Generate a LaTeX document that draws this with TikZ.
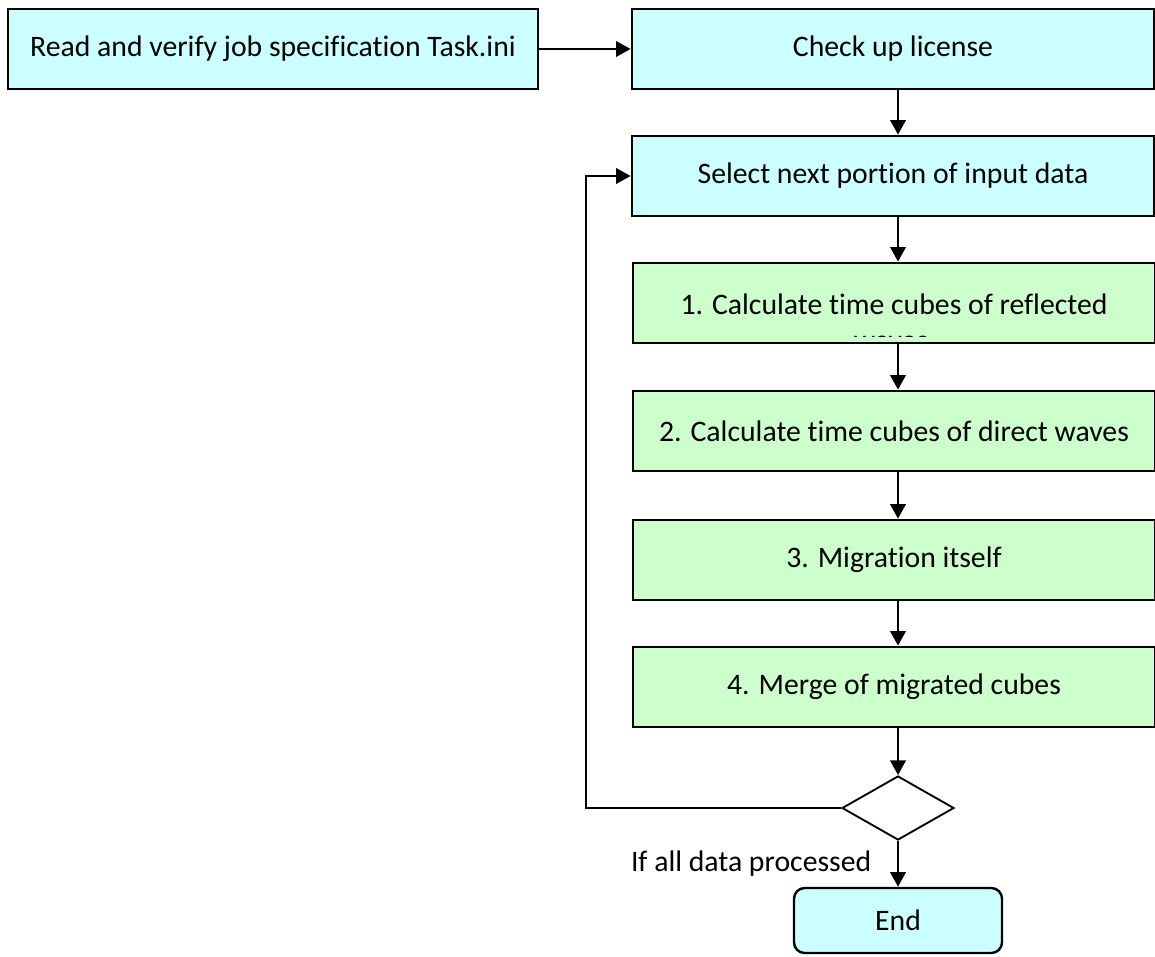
\documentclass[tikz,border=0pt]{standalone}
\usepackage{fontspec}
\setmainfont[Ligatures={NoCommon}]{Carlito}
\usetikzlibrary{shapes.geometric,arrows.meta,calc}
\definecolor{cyanfill}{RGB}{204,255,255}
\definecolor{greenfill}{RGB}{204,255,204}
\begin{document}
\begin{tikzpicture}[x=0.75pt,y=-0.75pt,
  every node/.style={font=\fontsize{22.3}{26}\selectfont},
  box/.style={draw=black,line width=2pt,minimum height=60pt,inner sep=0pt},
  cyanbox/.style={box,fill=cyanfill},
  greenbox/.style={box,fill=greenfill,minimum width=391.5pt},
  arr/.style={line width=2.1pt,-{Triangle[length=11pt,width=11.5pt]}}]
\useasboundingbox (0,0) rectangle (1155,956);
\node[cyanbox,minimum width=397.5pt] (A) at (273,49) {Read and verify job specification Task.ini};
\node[cyanbox,minimum width=391.5pt] (B) at (893,49) {Check up license};
\node[cyanbox,minimum width=391.5pt] (C) at (893,176) {Select next portion of input data};
\node[greenbox] (S1) at (894,303) {};
\node (S1t) at (894,304) {1. Calculate time cubes of reflected};
\begin{scope}
  \clip (640,264) rectangle (1150,336.5);
  \node[anchor=base] (S1w) at (891,350) {waves};
\end{scope}
\node[greenbox] (S2) at (894,431) {2. Calculate time cubes of direct waves};
\node[greenbox] (S3) at (894,560) {3. Migration itself};
\node[greenbox] (S4) at (894,687) {4. Merge of migrated cubes};
\node[diamond,draw=black,line width=1.4pt,fill=white,minimum width=84pt,minimum height=48pt,inner sep=0pt] (D) at (898,808) {};
\node[draw=black,line width=1.8pt,fill=cyanfill,rounded corners=8pt,minimum width=156pt,minimum height=48.75pt,inner sep=0pt] (E) at (898,920.5) {End};
\coordinate (L) at (586,808);
\draw[arr] (A) -- (B);
\draw[arr] (B.south -| D) -- (C.north -| D);
\draw[arr] (C.south -| D) -- (S1.north -| D);
\draw[arr] (S1.south -| D) -- (S2.north -| D);
\draw[arr] (S2.south -| D) -- (S3.north -| D);
\draw[arr] (S3.south -| D) -- (S4.north -| D);
\draw[arr] (S4.south -| D) -- (D.north);
\draw[arr] (D.south) -- node[anchor=east,xshift=-19pt,inner sep=0pt] (lab) {If all data processed} (E.north);
\draw[arr] (D.west) -- (L) -- (L |- C.west) -- (C.west);
\end{tikzpicture}
\end{document}
